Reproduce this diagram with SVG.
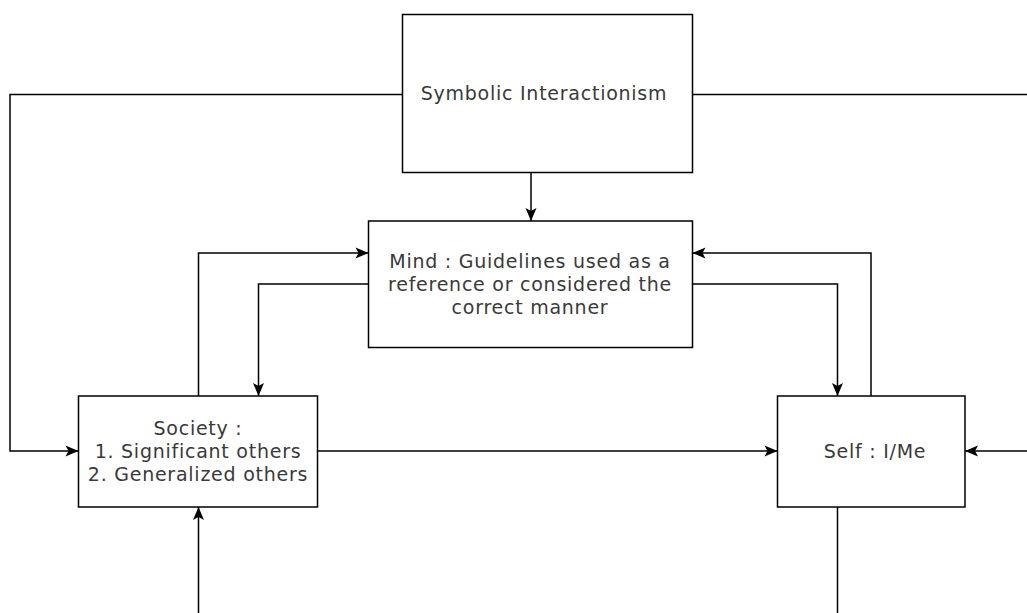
<svg xmlns="http://www.w3.org/2000/svg" width="1027" height="613" viewBox="0 0 1027 613">
<defs>
<style>
.box{fill:#fff;stroke:#000;stroke-width:1.5}
.lbl{font-family:"DejaVu Sans","Verdana",sans-serif;font-size:19px;letter-spacing:0.75px;fill:#3a3a3a;text-anchor:middle}
.conn{fill:none;stroke:#000;stroke-width:1.5}
</style>
<marker id="arr" markerUnits="userSpaceOnUse" markerWidth="16" markerHeight="16" viewBox="0 0 16 16" refX="15" refY="8" orient="auto">
<path d="M2,2.5 L15,8 L2,13.5 L5,8 Z" fill="#000"/>
</marker>
</defs>
<rect width="1027" height="613" fill="#fff"/>
<g id="connectors">
<path class="conn" d="M402.5,94.5 H10 V451 H78.5" marker-end="url(#arr)"/>
<path class="conn" d="M692.5,94.5 H1045 V451 H965" marker-end="url(#arr)"/>
<path class="conn" d="M531,172.5 V221" marker-end="url(#arr)"/>
<path class="conn" d="M198.5,396 V253 H368.5" marker-end="url(#arr)"/>
<path class="conn" d="M368.5,284 H258.5 V396" marker-end="url(#arr)"/>
<path class="conn" d="M692.5,284 H837.5 V396" marker-end="url(#arr)"/>
<path class="conn" d="M871,396 V253 H692.5" marker-end="url(#arr)"/>
<path class="conn" d="M317.5,451 H777.5" marker-end="url(#arr)"/>
<path class="conn" d="M837.5,507 V640 H198.5 V507" marker-end="url(#arr)"/>
</g>
<g id="symbolic">
<rect class="box" x="402.5" y="14.5" width="290" height="158"/>
<text class="lbl" x="544" y="100">Symbolic Interactionism</text>
</g>
<g id="mind">
<rect class="box" x="368.5" y="221" width="324" height="126.5"/>
<text class="lbl" x="530" y="268">Mind : Guidelines used as a</text>
<text class="lbl" x="530" y="291">reference or considered the</text>
<text class="lbl" x="530" y="314">correct manner</text>
</g>
<g id="society">
<rect class="box" x="78.5" y="396" width="239" height="111"/>
<text class="lbl" x="198" y="435">Society :</text>
<text class="lbl" x="198" y="458">1. Significant others</text>
<text class="lbl" x="198" y="481">2. Generalized others</text>
</g>
<g id="self">
<rect class="box" x="777.5" y="396" width="187.5" height="111"/>
<text class="lbl" x="875" y="458">Self : I/Me</text>
</g>
</svg>
